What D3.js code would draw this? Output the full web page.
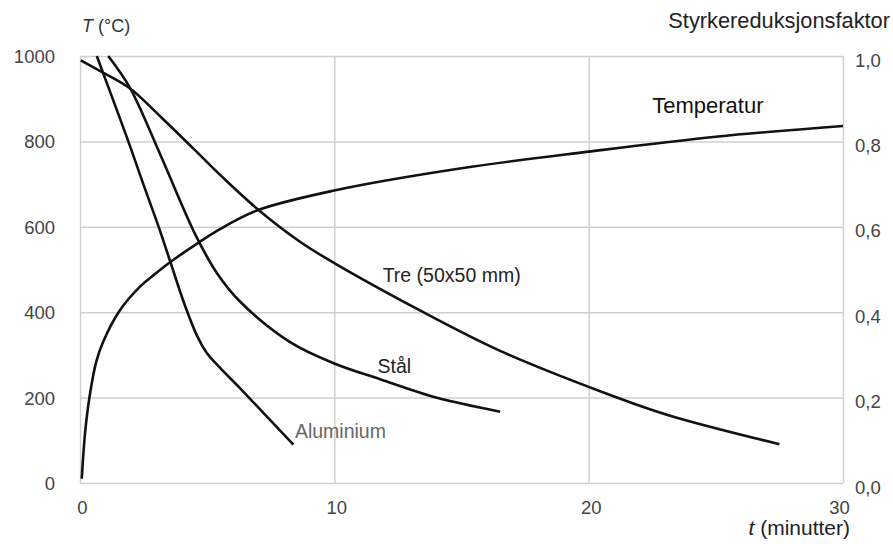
<!DOCTYPE html>
<html>
<head>
<meta charset="utf-8">
<script src="https://cdn.jsdelivr.net/npm/d3@7"></script>
<style>
	body { margin: 0; background: #fff; }
	text { font-family: Arial, "Liberation Sans", sans-serif; }
	.grid line { stroke: #cfcfcf; stroke-width: 1.5; }
	.grid path { display: none; }
	.ticks path, .ticks line { display: none; }
	.ticks text { fill: #444; font-size: 18.5px; }
	.curve { fill: none; stroke: #111; stroke-width: 2.6; }
</style>
</head>
<body>
<div id="chart"></div>
<script>
// t (minutter), T (°C)
const temperatur = [
	[0.07, 10], [0.2, 118], [0.37, 200], [0.63, 282], [0.89, 328], [1.55, 403],
	[2.36, 460], [2.92, 488], [3.54, 517], [4.59, 560], [5.37, 590], [6.95, 638],
	[10, 685], [15, 737], [20, 776], [25, 811], [30, 836]
];
// t (minutter), styrkereduksjonsfaktor
const tre = [
	[0.03, 0.99], [0.85, 0.963], [1.97, 0.924], [3.2, 0.856], [4.46, 0.783], [5.57, 0.718],
	[6.95, 0.643], [8.65, 0.565], [10, 0.515], [13.5, 0.40], [16.5, 0.31],
	[20.45, 0.215], [23.07, 0.16], [27.5, 0.091]
];
const staal = [
	[1.11, 1.0], [1.97, 0.925], [3.15, 0.77], [4.55, 0.58], [5.4, 0.49], [6.29, 0.425],
	[8.26, 0.33], [10, 0.28], [11.8, 0.243], [14, 0.2], [16.52, 0.167]
];
const aluminium = [
	[0.66, 1.0], [1.84, 0.81], [2.49, 0.70], [3.15, 0.59], [3.54, 0.52], [4.13, 0.415],
	[4.6, 0.345], [4.98, 0.305], [5.5, 0.27], [6.29, 0.222], [8.39, 0.09]
];

const tempTicks = [0, 200, 400, 600, 800, 1000];
const faktorTicks = [0, 0.2, 0.4, 0.6, 0.8, 1.0];
const tidTicks = [0, 10, 20, 30];

const width = 893, height = 544;
const margin = { top: 56, right: 50, bottom: 61, left: 80 };
const w = width - margin.left - margin.right;
const h = height - margin.top - margin.bottom;

const svg = d3.select('#chart')
	.append('svg')
	.attr('width', width)
	.attr('height', height);

const g = svg.append('g')
	.attr('transform', `translate(${margin.left}, ${margin.top})`);

const x = d3.scaleLinear().domain([0, 30]).range([0, w]);
const yT = d3.scaleLinear().domain([0, 1000]).range([h, 0]);
const yF = d3.scaleLinear().domain([0, 1]).range([h, 0]);

// grid
g.append('g')
	.attr('class', 'grid')
	.call(d3.axisLeft(yT).tickValues(tempTicks).tickSize(-w).tickFormat(''));
g.append('g')
	.attr('class', 'grid')
	.attr('transform', `translate(0, ${h})`)
	.call(d3.axisBottom(x).tickValues(tidTicks).tickSize(-h).tickFormat(''));

// tick labels
g.append('g')
	.attr('class', 'ticks')
	.attr('transform', 'translate(-25, 0)')
	.call(d3.axisLeft(yT).tickValues(tempTicks).tickSize(0).tickPadding(0).tickFormat(d3.format('d')))
	.selectAll('text').attr('dy', '0.35em');

g.append('g')
	.attr('class', 'ticks')
	.attr('transform', `translate(${w + 12}, 0)`)
	.call(d3.axisRight(yF).tickValues(faktorTicks).tickSize(0).tickPadding(0)
		.tickFormat(d => d3.format('.1f')(d).replace('.', ',')))
	.selectAll('text').attr('dy', '0.55em');

g.append('g')
	.attr('class', 'ticks')
	.attr('transform', `translate(2, ${h + 14})`)
	.call(d3.axisBottom(x).tickValues(tidTicks).tickSize(0).tickPadding(0))
	.selectAll('text').attr('dy', '0.9em')
	.attr('dx', d => d === 30 ? '-6' : '0');

// curves
const line = d3.line().curve(d3.curveCatmullRom.alpha(0.5));

g.append('path')
	.datum(temperatur)
	.attr('class', 'curve')
	.attr('d', line.x(d => x(d[0])).y(d => yT(d[1])));

[tre, staal, aluminium].forEach(serie => {
	g.append('path')
		.datum(serie)
		.attr('class', 'curve')
		.attr('d', line.x(d => x(d[0])).y(d => yF(d[1])));
});

// axis titles
const tTitle = svg.append('text')
	.attr('x', 82).attr('y', 32)
	.attr('font-size', 18).attr('fill', '#333');
tTitle.append('tspan').attr('font-style', 'italic').text('T');
tTitle.append('tspan').text(' (°C)');

svg.append('text')
	.attr('x', 890).attr('y', 28)
	.attr('text-anchor', 'end')
	.attr('font-size', 21.8).attr('fill', '#222')
	.text('Styrkereduksjonsfaktor');

const xTitle = svg.append('text')
	.attr('x', 850).attr('y', 535)
	.attr('text-anchor', 'end')
	.attr('font-size', 21).attr('fill', '#222');
xTitle.append('tspan').attr('font-style', 'italic').text('t');
xTitle.append('tspan').text(' (minutter)');

// curve labels
const labels = [
	{ text: 'Temperatur', t: 22.5, v: 0.8665, size: 22, color: '#111' },
	{ text: 'Tre (50x50 mm)', t: 11.9, v: 0.47, size: 19.5, color: '#222' },
	{ text: 'Stål', t: 11.7, v: 0.257, size: 19.5, color: '#222' },
	{ text: 'Aluminium', t: 8.45, v: 0.105, size: 19.5, color: '#666' }
];
g.selectAll('text.label')
	.data(labels)
	.enter()
	.append('text')
	.attr('class', 'label')
	.attr('x', d => x(d.t))
	.attr('y', d => yF(d.v))
	.attr('font-size', d => d.size)
	.attr('fill', d => d.color)
	.text(d => d.text);
</script>
</body>
</html>
